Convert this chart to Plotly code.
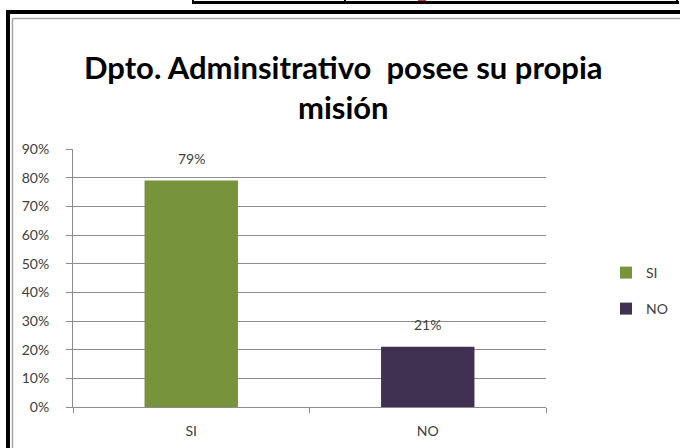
import plotly.graph_objects as go

# ---- data ----
categories = ["SI", "NO"]
values = [0.79, 0.21]
labels = ["79%", "21%"]
colors = ["#77933C", "#403152"]
title_text = "Dpto. Adminsitra<span>tivo</span>\u00a0 posee su propia<br>misión"

W, H = 680, 448
L, R, T, B = 73, 680 - 546, 149, 448 - 407
PW, PH = W - L - R, H - T - B


def px(x):
    return (x - L) / PW


def py(y):
    return (H - B - y) / PH


FONT = "Lato, Carlito, Calibri, sans-serif"
TICK_COLOR = "#404040"
GRID = "#8c8c8c"

fig = go.Figure()
legend_names = ["legend", "legend2"]
for i, (c, v) in enumerate(zip(categories, values)):
    fig.add_trace(go.Bar(
        x=[c], y=[v], name=c, marker=dict(color=colors[i], line=dict(width=0)),
        width=0.395, legend=legend_names[i], hoverinfo="skip",
    ))
    fig.add_annotation(x=c, y=v, text=labels[i], showarrow=False,
                       yanchor="bottom", yshift=12,
                       font=dict(family=FONT, size=14, color=TICK_COLOR))

# title
fig.add_annotation(xref="paper", yref="paper", x=px(343), y=py(87),
                   text=title_text, showarrow=False, xanchor="center",
                   yanchor="middle", align="center",
                   font=dict(family=FONT, size=31, color="#000000", weight="bold"))

shapes = []
# outer black frame (left + top)
shapes.append(dict(type="rect", xref="paper", yref="paper",
                   x0=px(6), x1=px(10), y0=py(H + 5), y1=py(10),
                   fillcolor="black", line=dict(width=0), layer="above"))
shapes.append(dict(type="rect", xref="paper", yref="paper",
                   x0=px(6), x1=px(W + 5), y0=py(14), y1=py(10),
                   fillcolor="black", line=dict(width=0), layer="above"))
# inner gray border
shapes.append(dict(type="line", xref="paper", yref="paper",
                   x0=px(12.5), x1=px(12.5), y0=py(H + 5), y1=py(18.5),
                   line=dict(color="#a6a6a6", width=1.5)))
shapes.append(dict(type="line", xref="paper", yref="paper",
                   x0=px(12.5), x1=px(W + 5), y0=py(18.5), y1=py(18.5),
                   line=dict(color="#a6a6a6", width=1.5)))
# table fragment at top
shapes.append(dict(type="rect", xref="paper", yref="paper",
                   x0=px(192), x1=px(679), y0=py(4), y1=py(1),
                   fillcolor="black", line=dict(width=0)))
for xv in (193, 345, 677):
    shapes.append(dict(type="rect", xref="paper", yref="paper",
                       x0=px(xv - 1), x1=px(xv + 1), y0=py(4), y1=py(-2),
                       fillcolor="black", line=dict(width=0)))
shapes.append(dict(type="rect", xref="paper", yref="paper",
                   x0=px(418), x1=px(426), y0=py(1), y1=py(-2),
                   fillcolor="#e03030", line=dict(width=0)))

legend_font = dict(family=FONT, size=14, color=TICK_COLOR)
fig.update_layout(
    width=W, height=H,
    margin=dict(l=L, r=R, t=T, b=B, autoexpand=False),
    paper_bgcolor="white", plot_bgcolor="white",
    barmode="overlay",
    shapes=shapes,
    showlegend=True,
    font=dict(family=FONT, size=14, color=TICK_COLOR),
    legend=dict(x=px(606), y=py(273), xanchor="left", yanchor="middle",
                font=legend_font, bgcolor="rgba(0,0,0,0)", itemwidth=30),
    legend2=dict(x=px(606), y=py(309), xanchor="left", yanchor="middle",
                 font=legend_font, bgcolor="rgba(0,0,0,0)", itemwidth=30),
    xaxis=dict(type="category", categoryorder="array", categoryarray=categories,
               showline=True, linecolor=GRID, linewidth=1,
               ticks="outside", tickson="boundaries", ticklen=5, tickcolor=GRID,
               showgrid=False, ticklabelstandoff=11,
               tickfont=dict(family=FONT, size=14, color=TICK_COLOR),
               fixedrange=True),
    yaxis=dict(range=[0, 0.9], dtick=0.1, tickformat=".0%",
               showline=True, linecolor=GRID, linewidth=1,
               ticks="outside", ticklen=6, tickcolor=GRID,
               showgrid=True, gridcolor=GRID, gridwidth=1, zeroline=False,
               ticklabelstandoff=14,
               tickfont=dict(family=FONT, size=14, color=TICK_COLOR),
               fixedrange=True),
)

fig.write_html("out.html")
